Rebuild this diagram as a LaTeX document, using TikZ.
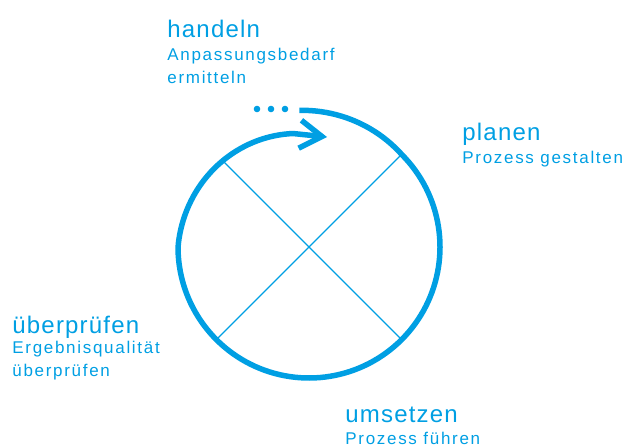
\documentclass[tikz,border=0pt]{standalone}
\usepackage{fontspec}
\setmainfont{Liberation Sans}
\newfontfamily\headfont[LetterSpace=5]{Liberation Sans}
\newfontfamily\subfont[LetterSpace=10]{Liberation Sans}
\definecolor{pdcablue}{RGB}{0,159,227}
\usetikzlibrary{arrows.meta}

\begin{document}
\begin{tikzpicture}[x=0.5pt,y=0.5pt,
  declare function={spr(\t)=(\t>45)*(131+6*(\t-45)/49)+(\t<=45)*(\t>=-180)*131+(\t<-180)*(131-0.2*(-180-\t));},
  phase/.style={anchor=base west, inner sep=0pt, text=pdcablue, font=\headfont\fontsize{12}{14}\selectfont},
  task/.style={anchor=base west, inner sep=0pt, text=pdcablue, align=left, font=\subfont\fontsize{8.5}{11.5}\selectfont},
  cyclepath/.style={draw=pdcablue, line width=2.75pt},
  spoke/.style={draw=pdcablue, line width=0.65pt}]
  \useasboundingbox (0,0) rectangle (624,446);
  % Centre and spoke ends
  \coordinate (c) at (309,199);
  \path (c) ++(45:131) coordinate (ne);
  \path (c) ++(135:122) coordinate (nw);
  \path (c) ++(225:131) coordinate (sw);
  \path (c) ++(315:131) coordinate (se);
  \coordinate (tip) at (327,309);
  \draw[spoke] (nw) -- (se);
  \draw[spoke] (ne) -- (sw);
  % Cycle spiral with arrow
  \draw[cyclepath, -{Straight Barb[length=11pt,width=14pt]}]
    plot[domain=94:-262, samples=160, variable=\t] ([shift={(c)}]\t:{spr(\t)}) -- (tip);
  % Continuation dots
  \foreach \dx in {257,271,285}
    \fill[pdcablue] (\dx,337) circle (3.3);
  % Phases
  \node[phase] (handeln) at (167,409) {handeln};
  \node[task] (handelnTask) at (167,363) {Anpassungsbedarf\\ermitteln};
  \node[phase] (planen) at (462,306) {planen};
  \node[task] (planenTask) at (462,283) {Prozess gestalten};
  \node[phase] (umsetzen) at (345,24) {umsetzen};
  \node[task] (umsetzenTask) at (345,2) {Prozess führen};
  \node[phase] (pruefen) at (12,113) {überprüfen};
  \node[task] (pruefenTask) at (12,70) {Ergebnisqualität\\überprüfen};
\end{tikzpicture}
\end{document}
